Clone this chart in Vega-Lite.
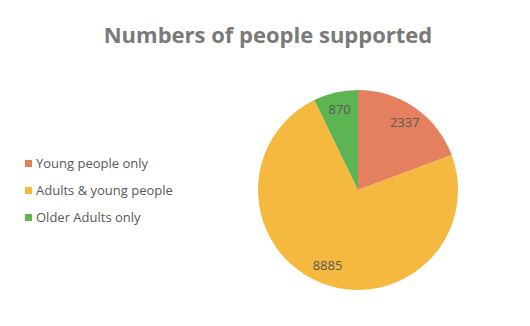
{
  "$schema": "https://vega.github.io/schema/vega-lite/v6.json",
  "autosize": {"type": "none"},
  "width": 200,
  "height": 200,
  "padding": {"left": 258, "top": 90, "right": 72, "bottom": 36},
  "background": "white",
  "title": {
    "text": "Numbers of people supported",
    "anchor": "middle",
    "frame": "group",
    "dx": -90,
    "offset": 42,
    "font": "Open Sans",
    "fontSize": 22,
    "fontWeight": "bold",
    "color": "#7a7a7a"
  },
  "data": {
    "values": [
      {"category": "Young people only", "value": 2337, "order": 1},
      {"category": "Adults & young people", "value": 8885, "order": 2},
      {"category": "Older Adults only", "value": 870, "order": 3}
    ]
  },
  "encoding": {
    "theta": {"field": "value", "type": "quantitative", "stack": true},
    "order": {"field": "order", "type": "quantitative"}
  },
  "layer": [
    {
      "mark": {"type": "arc", "outerRadius": 100},
      "encoding": {
        "color": {
          "field": "category",
          "type": "nominal",
          "sort": ["Young people only", "Adults & young people", "Older Adults only"],
          "scale": {
            "domain": ["Young people only", "Adults & young people", "Older Adults only"],
            "range": ["#e5805f", "#f5b940", "#5cb552"]
          },
          "legend": {
            "title": null,
            "orient": "none",
            "legendX": -236,
            "legendY": 67,
            "symbolType": "square",
            "symbolSize": 50,
            "symbolStrokeWidth": 0,
            "labelFont": "Open Sans",
            "labelFontSize": 13,
            "labelColor": "#595959",
            "rowPadding": 13,
            "labelOffset": 1
          }
        }
      }
    },
    {
      "mark": {"type": "text", "radius": 82, "font": "Open Sans", "fontSize": 13, "color": "#595959"},
      "encoding": {
        "text": {"field": "value", "type": "quantitative", "format": "d"}
      }
    }
  ]
}
